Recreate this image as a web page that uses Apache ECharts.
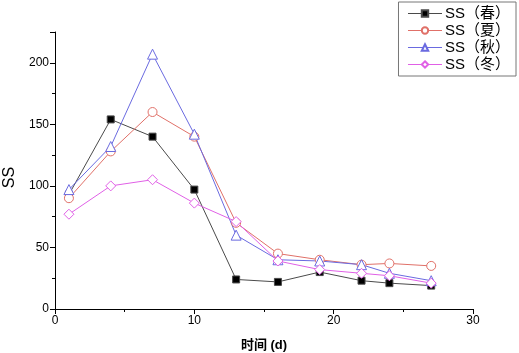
<!DOCTYPE html>
<html>
<head>
<meta charset="utf-8">
<script src="https://cdn.jsdelivr.net/npm/echarts@6/dist/echarts.min.js"></script>
<style>
  html, body { margin: 0; padding: 0; background: #fff; }
  #graph { width: 519px; height: 353px; }
</style>
</head>
<body>
<div id="graph"></div>
<script>
var days = [1, 4, 7, 10, 13, 16, 19, 22, 24, 27];
var spring = [93, 154, 140, 97, 24, 22, 30, 23, 21, 19];
var summer = [90, 128, 160, 140, 70, 45, 40, 36, 37, 35];
var autumn = [97, 132, 207, 142, 60, 40, 39, 36, 29, 23];
var winter = [77, 100, 105, 86, 71, 39, 32, 29, 27, 21];
var names = ['SS（春）', 'SS（夏）', 'SS（秋）', 'SS（冬）'];

var font = 'Liberation Sans, Arial, Noto Sans CJK SC, sans-serif';

function pairs(vals) {
  return days.map(function (d, i) { return [d, vals[i]]; });
}

var chartDom = document.getElementById('graph');
var myChart = echarts.init(chartDom);
var option;

function mkSeries(name, vals, color, symbol, size, fill) {
  return {
    name: name,
    type: 'line',
    data: pairs(vals),
    symbol: symbol,
    symbolSize: size,
    showAllSymbol: true,
    animation: false,
    lineStyle: { color: color, width: 1 },
    itemStyle: { color: fill || color, borderColor: color, borderWidth: 1 }
  };
}

option = {
  animation: false,
  textStyle: { fontFamily: font },
  grid: { left: 55, right: 46, top: 32, bottom: 44, containLabel: false, outerBoundsMode: 'none' },
  legend: {
    orient: 'vertical',
    right: 3,
    top: 2,
    borderColor: '#777',
    borderWidth: 1,
    padding: [4, 6, 4, 9],
    itemGap: 2,
    itemWidth: 34,
    itemHeight: 8,
    lineStyle: { width: 1 },
    textStyle: { fontSize: 15, color: '#000', fontFamily: font, padding: [0, 0, 0, -2] },
    data: names
  },
  xAxis: {
    type: 'value',
    min: 0,
    max: 30,
    interval: 10,
    name: '时间 (d)',
    nameLocation: 'middle',
    nameGap: 30,
    nameTextStyle: { fontSize: 13, color: '#000', fontWeight: 'bold', fontFamily: font },
    axisLine: { lineStyle: { color: '#000', width: 1 } },
    axisTick: { length: 5, lineStyle: { color: '#000' } },
    minorTick: { show: true, splitNumber: 2, length: 3, lineStyle: { color: '#000' } },
    axisLabel: { fontSize: 12, color: '#000', margin: 6 },
    splitLine: { show: false }
  },
  yAxis: {
    type: 'value',
    min: 0,
    max: 225,
    interval: 50,
    name: 'SS',
    nameLocation: 'middle',
    nameGap: 34,
    nameTextStyle: { fontSize: 16, color: '#000', fontFamily: font, padding: [0, 0, 0, -14] },
    axisLine: { show: true, lineStyle: { color: '#000', width: 1 } },
    axisTick: { show: true, length: 5, lineStyle: { color: '#000' } },
    minorTick: { show: true, splitNumber: 2, length: 3, lineStyle: { color: '#000' } },
    axisLabel: { fontSize: 12, color: '#000', margin: 6, showMaxLabel: false },
    splitLine: { show: false }
  },
  series: [
    mkSeries(names[0], spring, '#4a4a4a', 'rect', 7, '#000'),
    mkSeries(names[1], summer, '#e07068', 'circle', 9, '#fff'),
    mkSeries(names[2], autumn, '#6a6ae0', 'triangle', 10, '#fff'),
    mkSeries(names[3], winter, '#e060e6', 'diamond', 10, '#fff')
  ]
};

option && myChart.setOption(option);
</script>
</body>
</html>
